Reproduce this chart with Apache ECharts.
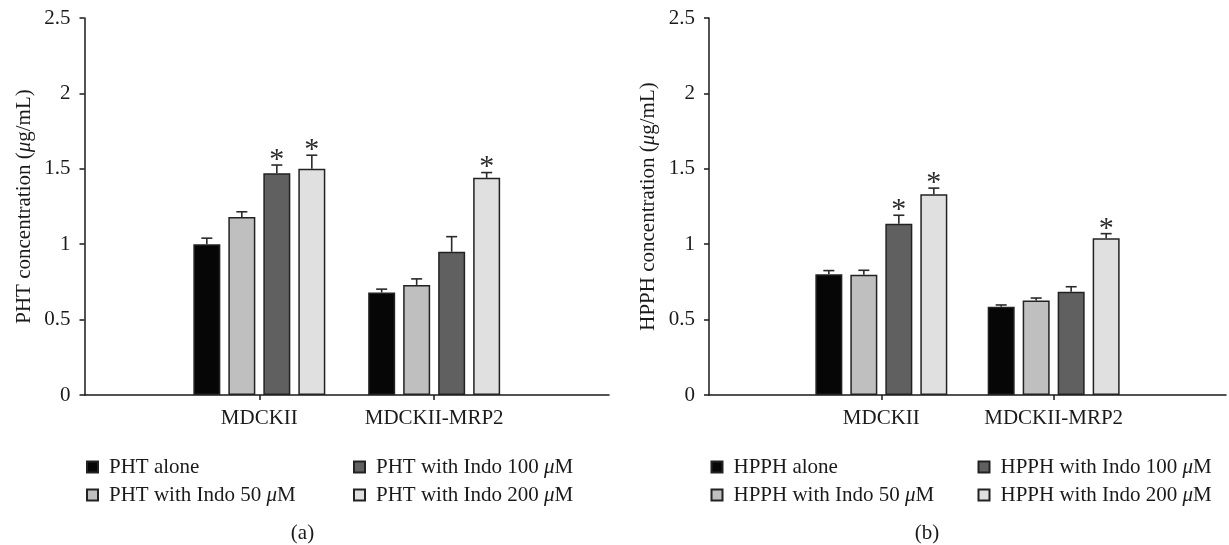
<!DOCTYPE html>
<html><head><meta charset="utf-8">
<script src="https://cdn.jsdelivr.net/npm/echarts@6/dist/echarts.min.js"></script>
<style>html,body{margin:0;padding:0;background:#fff}#c{width:1229px;height:545px}</style>
</head><body><div id="c"></div>
<script>
// ---------- data ----------
const categories = ['MDCKII', 'MDCKII-MRP2'];
const yMin = 0, yMax = 2.5, yStep = 0.5;

// Panel (a): PHT
const phtNames = ['PHT alone', 'PHT with Indo 50 μM', 'PHT with Indo 100 μM', 'PHT with Indo 200 μM'];
const phtAlone = [1.00, 0.68];
const pht50 = [1.18, 0.73];
const pht100 = [1.47, 0.95];
const pht200 = [1.50, 1.44];
const phtAloneErr = [0.04, 0.022];
const pht50Err = [0.035, 0.04];
const pht100Err = [0.055, 0.10];
const pht200Err = [0.09, 0.035];
const phtAloneSig = [0, 0];
const pht50Sig = [0, 0];
const pht100Sig = [1, 0];
const pht200Sig = [1, 1];

// Panel (b): HPPH
const hpphNames = ['HPPH alone', 'HPPH with Indo 50 μM', 'HPPH with Indo 100 μM', 'HPPH with Indo 200 μM'];
const hpphAlone = [0.80, 0.585];
const hpph50 = [0.797, 0.627];
const hpph100 = [1.135, 0.684];
const hpph200 = [1.332, 1.04];
const hpphAloneErr = [0.025, 0.012];
const hpph50Err = [0.03, 0.016];
const hpph100Err = [0.057, 0.034];
const hpph200Err = [0.04, 0.03];
const hpphAloneSig = [0, 0];
const hpph50Sig = [0, 0];
const hpph100Sig = [1, 0];
const hpph200Sig = [1, 1];

const panelLabels = ['(a)', '(b)'];

// ---------- styling ----------
const FONT = '"Liberation Serif", "Times New Roman", serif';
const FS = 21;
const fills = ['#060606', '#bfbfbf', '#5f605f', '#e0e0e0'];
const BAR_W = 27, STEP = 35;

const xCats = ['', ...categories, ''];
const padData = v => ['-', ...v, '-'];

const panels = [
  { names: phtNames, vals: [phtAlone, pht50, pht100, pht200], errs: [phtAloneErr, pht50Err, pht100Err, pht200Err],
    sigs: [phtAloneSig, pht50Sig, pht100Sig, pht200Sig], yName: 'PHT concentration ({i|μ}g/mL)', left: 84.5, width: 524.5 },
  { names: hpphNames, vals: [hpphAlone, hpph50, hpph100, hpph200], errs: [hpphAloneErr, hpph50Err, hpph100Err, hpph200Err],
    sigs: [hpphAloneSig, hpph50Sig, hpph100Sig, hpph200Sig], yName: 'HPPH concentration ({i|μ}g/mL)', left: 709, width: 523.5 }
];

const grid = [], xAxis = [], yAxis = [], series = [], legend = [], graphic = [];
const axisLineStyle = { color: '#1a1a1a', width: 1.5 };

panels.forEach((p, pi) => {
  grid.push({ left: p.left, top: 18, width: p.width, height: 377 });
  xAxis.push({
    type: 'category', gridIndex: pi, data: xCats, boundaryGap: false,
    axisLine: { lineStyle: axisLineStyle },
    axisTick: { length: 5, lineStyle: axisLineStyle, interval: (i) => i === 1 || i === 2 },
    axisLabel: { fontFamily: FONT, fontSize: FS, color: '#1a1a1a', margin: 13, interval: 0 },
    splitLine: { show: false }
  });
  yAxis.push({
    type: 'value', gridIndex: pi, min: yMin, max: yMax, interval: yStep,
    name: p.yName, nameLocation: 'middle', nameGap: 50, nameRotate: 90,
    nameTextStyle: { fontFamily: FONT, fontSize: FS, color: '#1a1a1a',
      rich: { i: { fontFamily: FONT, fontSize: FS, fontStyle: 'italic', color: '#1a1a1a' } } },
    axisLine: { show: true, lineStyle: axisLineStyle },
    axisTick: { show: true, length: 5, lineStyle: axisLineStyle },
    axisLabel: { fontFamily: FONT, fontSize: FS, color: '#1a1a1a', margin: 14 },
    splitLine: { show: false }
  });
  p.names.forEach((name, k) => {
    series.push({
      type: 'bar', name, xAxisIndex: pi, yAxisIndex: pi, barWidth: BAR_W, barGap: '29.6%',
      data: padData(p.vals[k]),
      itemStyle: { color: fills[k], borderColor: '#222', borderWidth: 1.5 },
      emphasis: { disabled: true }, z: 2
    });
  });
  p.names.forEach((name, k) => {
    const data = p.vals[k].map((v, ci) => [ci + 1, v, p.errs[k][ci], p.sigs[k][ci]]);
    const offset = (k - 1.5) * STEP;
    series.push({
      type: 'custom', name: name + ' error', xAxisIndex: pi, yAxisIndex: pi, z: 4,
      data, encode: { x: 0, y: 1 }, silent: true,
      renderItem: (params, api) => {
        const c = api.value(0), m = api.value(1), e = api.value(2), s = api.value(3);
        const base = api.coord([c, m]);
        const top = api.coord([c, m + e]);
        const x = base[0] + offset;
        const children = [
          { type: 'line', shape: { x1: x, y1: base[1], x2: x, y2: top[1] }, style: { stroke: '#2a2a2a', lineWidth: 1.6 } },
          { type: 'line', shape: { x1: x - 5.5, y1: top[1], x2: x + 5.5, y2: top[1] }, style: { stroke: '#2a2a2a', lineWidth: 1.6 } }
        ];
        if (s) children.push({ type: 'text', style: { text: '*', x: x, y: top[1] + 10, align: 'center', verticalAlign: 'bottom',
          font: '30px ' + FONT, fill: '#2a2a2a' } });
        return { type: 'group', children };
      }
    });
  });
  const legPos = [[0, 456.5], [0, 484.5], [267, 456.5], [267, 484.5]];
  p.names.forEach((name, k) => {
    legend.push({
      data: [name], left: p.left + 1.5 + legPos[k][0], top: legPos[k][1], padding: 0,
      itemWidth: 11, itemHeight: 11, icon: 'rect', selectedMode: false,
      formatter: n => n.replace('μ', '{i|μ}'),
      textStyle: { fontFamily: FONT, fontSize: FS, color: '#1a1a1a', padding: [0, 0, 0, 6],
        rich: { i: { fontFamily: FONT, fontSize: FS, fontStyle: 'italic', color: '#1a1a1a' } } }
    });
  });
  graphic.push({ type: 'text', x: p.left + 218, y: 533,
    style: { text: panelLabels[pi], font: FS + 'px ' + FONT, fill: '#1a1a1a', align: 'center', verticalAlign: 'middle' } });
});

const chart = echarts.init(document.getElementById('c'), null, { renderer: 'canvas' });
chart.setOption({ animation: false, backgroundColor: '#fff', grid, xAxis, yAxis, series, legend, graphic });
</script>
</body></html>
